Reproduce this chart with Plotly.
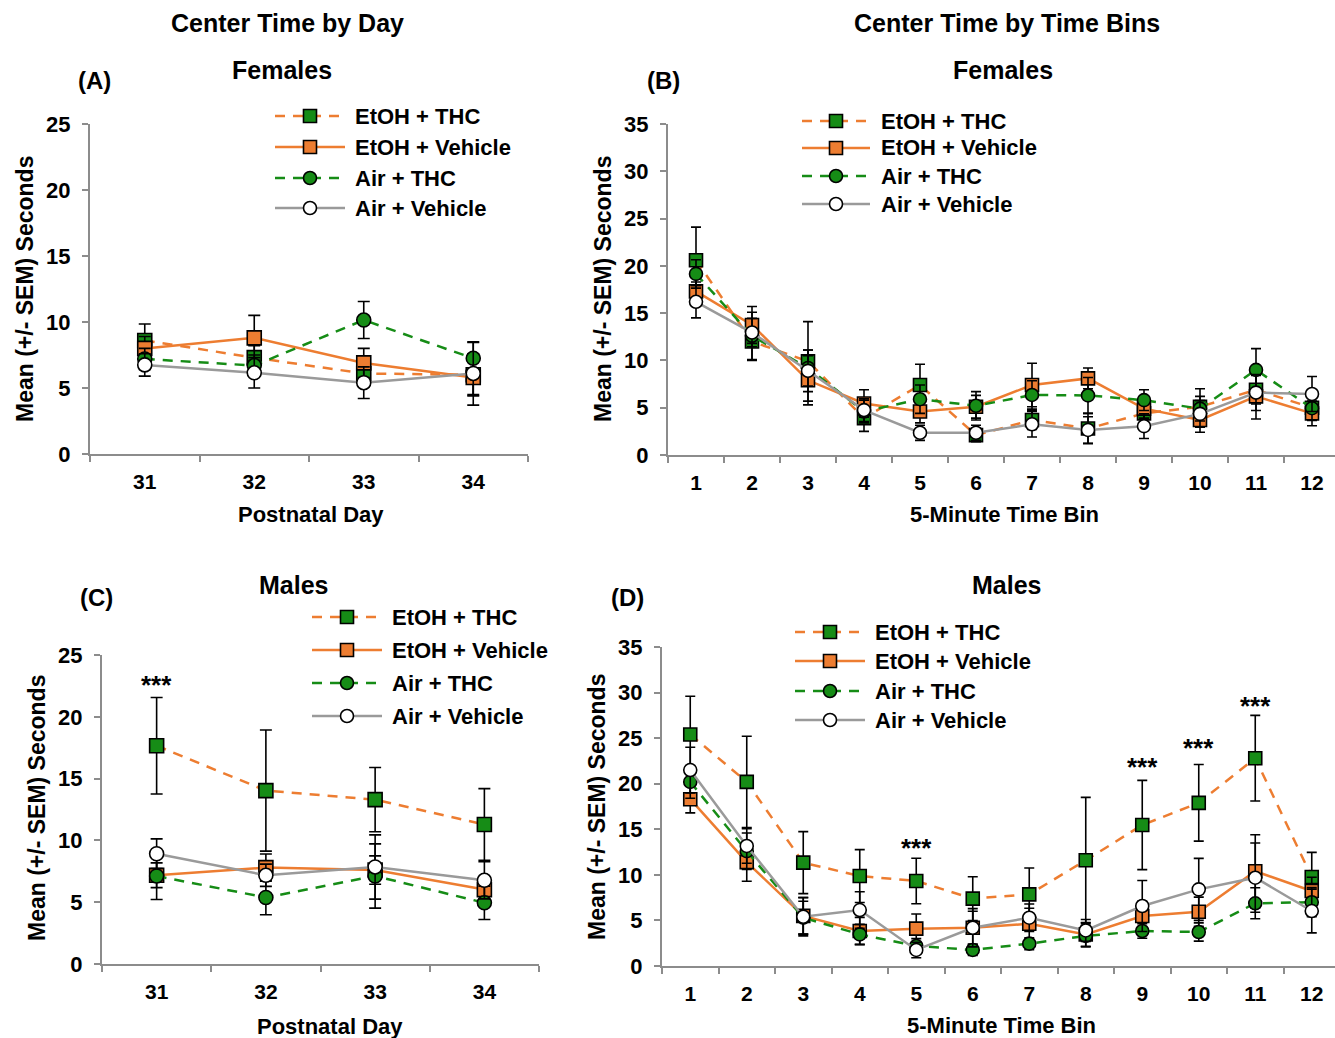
import plotly.graph_objects as go

W, H = 1335, 1038

# ---------------- DATA ----------------
days = ["31", "32", "33", "34"]
bins = ["1", "2", "3", "4", "5", "6", "7", "8", "9", "10", "11", "12"]
groups = ["EtOH + THC", "EtOH + Vehicle", "Air + THC", "Air + Vehicle"]

# (A) Females, center time by day
a_etoh_thc = [8.6, 7.3, 6.1, 6.0]
a_etoh_thc_sem = [1.25, 0.9, 1.0, 1.6]
a_etoh_veh = [8.0, 8.8, 6.9, 5.8]
a_etoh_veh_sem = [0.9, 1.7, 1.1, 1.3]
a_air_thc = [7.2, 6.7, 10.15, 7.25]
a_air_thc_sem = [0.8, 0.8, 1.4, 1.2]
a_air_veh = [6.75, 6.15, 5.4, 6.1]
a_air_veh_sem = [0.85, 1.15, 1.2, 2.4]

# (B) Females, center time by 5-min bin
b_etoh_thc = [20.6, 12.0, 9.9, 3.9, 7.4, 2.1, 3.7, 2.8, 4.4, 5.1, 6.9, 5.0]
b_etoh_thc_sem = [3.5, 2.0, 4.2, 1.4, 2.2, 0.7, 1.0, 1.6, 0.9, 1.9, 1.5, 1.2]
b_etoh_veh = [17.3, 13.75, 7.9, 5.45, 4.6, 5.1, 7.4, 8.1, 4.9, 3.7, 6.2, 4.4]
b_etoh_veh_sem = [1.0, 1.95, 2.6, 1.45, 1.2, 1.2, 2.3, 1.1, 1.0, 1.3, 2.4, 1.3]
b_air_thc = [19.15, 12.6, 9.2, 4.6, 5.9, 5.2, 6.35, 6.3, 5.8, 4.9, 9.0, 4.95]
b_air_thc_sem = [1.5, 2.5, 1.9, 1.2, 1.5, 1.5, 1.5, 1.9, 1.1, 1.3, 2.25, 1.3]
b_air_veh = [16.2, 12.95, 8.9, 4.75, 2.35, 2.35, 3.25, 2.65, 3.05, 4.35, 6.6, 6.45]
b_air_veh_sem = [1.7, 1.5, 2.2, 1.2, 0.8, 0.8, 1.35, 1.4, 1.3, 1.4, 1.9, 1.85]

# (C) Males, center time by day
c_etoh_thc = [17.66, 14.03, 13.3, 11.29]
c_etoh_thc_sem = [3.9, 4.9, 2.6, 2.9]
c_etoh_veh = [7.18, 7.8, 7.6, 6.02]
c_etoh_veh_sem = [1.0, 1.1, 1.15, 1.0]
c_air_thc = [7.12, 5.38, 7.12, 4.95]
c_air_thc_sem = [1.9, 1.4, 2.6, 1.35]
c_air_veh = [8.92, 7.18, 7.85, 6.77]
c_air_veh_sem = [1.2, 0.9, 2.6, 1.5]

# (D) Males, center time by 5-min bin
d_etoh_thc = [25.4, 20.2, 11.34, 9.87, 9.33, 7.39, 7.86, 11.6, 15.47, 17.9, 22.8, 9.77]
d_etoh_thc_sem = [4.2, 5.0, 3.4, 2.9, 2.5, 2.4, 2.9, 6.9, 4.9, 4.2, 4.7, 2.7]
d_etoh_veh = [18.3, 11.4, 5.5, 3.84, 4.1, 4.2, 4.64, 3.47, 5.49, 5.96, 10.4, 8.23]
d_etoh_veh_sem = [1.5, 2.1, 2.0, 1.5, 1.6, 1.8, 1.7, 1.3, 1.6, 1.6, 4.0, 1.5]
d_air_thc = [20.2, 12.6, 5.3, 3.47, 2.2, 1.76, 2.45, 3.3, 3.84, 3.73, 6.88, 7.0]
d_air_thc_sem = [1.8, 2.0, 1.8, 1.1, 0.8, 0.6, 0.65, 1.2, 0.8, 1.0, 1.7, 1.6]
d_air_veh = [21.5, 13.17, 5.41, 6.14, 1.76, 4.2, 5.3, 3.9, 6.58, 8.41, 9.69, 6.03]
d_air_veh_sem = [2.5, 1.9, 2.1, 2.0, 0.85, 2.1, 1.5, 1.2, 2.8, 3.4, 3.8, 2.4]

# significance markers (category, y value)
c_sig = [("31", 22.6)]
d_sig = [("5", 13.0), ("9", 21.8), ("10", 23.9), ("11", 28.5)]

# ---------------- STYLE ----------------
ORANGE = "#ED7D31"
GREEN = "#168C16"
GRAY = "#9A9A9A"
AXC = "#8C8C8C"
FONT = "Arial, Liberation Sans, sans-serif"

styles = [
    dict(line=ORANGE, dash="10px,8px", sym="square", fill=GREEN),
    dict(line=ORANGE, dash="solid", sym="square", fill=ORANGE),
    dict(line=GREEN, dash="10px,8px", sym="circle", fill=GREEN),
    dict(line=GRAY, dash="solid", sym="circle", fill="white"),
]

def px(x):
    return x / W

def py(y):
    return 1 - y / H

fig = go.Figure()

panels = [
    ("x", "y", days, [(a_etoh_thc, a_etoh_thc_sem), (a_etoh_veh, a_etoh_veh_sem),
                      (a_air_thc, a_air_thc_sem), (a_air_veh, a_air_veh_sem)], 14, 6),
    ("x2", "y2", bins, [(b_etoh_thc, b_etoh_thc_sem), (b_etoh_veh, b_etoh_veh_sem),
                        (b_air_thc, b_air_thc_sem), (b_air_veh, b_air_veh_sem)], 13, 5),
    ("x3", "y3", days, [(c_etoh_thc, c_etoh_thc_sem), (c_etoh_veh, c_etoh_veh_sem),
                        (c_air_thc, c_air_thc_sem), (c_air_veh, c_air_veh_sem)], 14, 6),
    ("x4", "y4", bins, [(d_etoh_thc, d_etoh_thc_sem), (d_etoh_veh, d_etoh_veh_sem),
                        (d_air_thc, d_air_thc_sem), (d_air_veh, d_air_veh_sem)], 13, 5),
]

for xa, ya, cats, series, msize, ew in panels:
    for (vals, sem), st, name in zip(series, styles, groups):
        fig.add_trace(go.Scatter(
            x=cats, y=vals, xaxis=xa, yaxis=ya, name=name, showlegend=False,
            mode="lines+markers",
            line=dict(color=st["line"], width=2.5, dash=st["dash"]),
            marker=dict(symbol=st["sym"], size=msize, color=st["fill"],
                        line=dict(color="black", width=1.6)),
            error_y=dict(type="data", array=sem, visible=True, color="black",
                         thickness=1.6, width=ew),
            cliponaxis=False,
        ))

xtickfont = dict(family=FONT, size=21, color="black", weight="bold")
ytickfont = dict(family=FONT, size=22, color="black", weight="bold")

def xaxis(domain, rng):
    return dict(domain=domain, type="category", range=rng, tickson="boundaries",
                ticks="outside", ticklen=6, tickwidth=1.5, tickcolor=AXC,
                showline=True, linecolor=AXC, linewidth=2, showgrid=False,
                zeroline=False, tickfont=xtickfont, ticklabelstandoff=8,
                fixedrange=True, automargin=False)

def yaxis(domain, top, anchor):
    return dict(domain=domain, range=[0, top], dtick=5, ticks="outside", ticklen=6,
                tickwidth=1.5, tickcolor=AXC, showline=True, linecolor=AXC,
                linewidth=2, showgrid=False, zeroline=False, tickfont=ytickfont,
                ticklabelstandoff=7, anchor=anchor, fixedrange=True, automargin=False)

fig.update_layout(
    width=W, height=H, margin=dict(l=0, r=0, t=0, b=0, pad=0, autoexpand=False),
    paper_bgcolor="white", plot_bgcolor="rgba(0,0,0,0)", showlegend=False,
    font=dict(family=FONT, color="black"),
    xaxis=xaxis([px(90), px(528)], [-0.5, 3.5]) | dict(anchor="y"),
    yaxis=yaxis([py(454), py(124)], 25, "x"),
    xaxis2=xaxis([px(668), 1.0], [-0.5, -0.5 + (W - 668) / 56.0]) | dict(anchor="y2"),
    yaxis2=yaxis([py(455), py(124)], 35, "x2"),
    xaxis3=xaxis([px(102), px(539)], [-0.5, 3.5]) | dict(anchor="y3"),
    yaxis3=yaxis([py(964), py(655)], 25, "x3"),
    xaxis4=xaxis([px(662), 1.0], [-0.5, -0.5 + (W - 662) / 56.5]) | dict(anchor="y4"),
    yaxis4=yaxis([py(966), py(647)], 35, "x4"),
)

annotations = []
shapes = []

def text(x, y, s, size, anchor="center", angle=0):
    annotations.append(dict(x=px(x), y=py(y), xref="paper", yref="paper", text=s,
                            showarrow=False, xanchor=anchor, yanchor="middle",
                            textangle=angle,
                            font=dict(family=FONT, size=size, color="black", weight="bold")))

# titles
text(287, 23, "Center Time by Day", 25)
text(1007, 23, "Center Time by Time Bins", 25)
text(282, 70, "Females", 25)
text(1003, 70, "Females", 25)
text(293, 585, "Males", 25)
text(1006, 585, "Males", 25)
text(95, 80, "(A)", 24)
text(663, 80, "(B)", 24)
text(96, 597, "(C)", 24)
text(627, 597, "(D)", 24)
# axis titles
text(311, 514, "Postnatal Day", 22)
text(1004, 514, "5-Minute Time Bin", 22)
text(330, 1026, "Postnatal Day", 22)
text(1001, 1025, "5-Minute Time Bin", 22)
text(25, 289, "Mean (+/- SEM) Seconds", 23, angle=-90)
text(603, 289, "Mean (+/- SEM) Seconds", 23, angle=-90)
text(37, 808, "Mean (+/- SEM) Seconds", 23, angle=-90)
text(597, 807, "Mean (+/- SEM) Seconds", 23, angle=-90)

# significance stars (category axes: position by category index)
for cat, yv in c_sig:
    annotations.append(dict(x=days.index(cat), y=yv, xref="x3", yref="y3", text="***",
                            showarrow=False,
                            font=dict(family=FONT, size=26, color="black", weight="bold")))
for cat, yv in d_sig:
    annotations.append(dict(x=bins.index(cat), y=yv, xref="x4", yref="y4", text="***",
                            showarrow=False,
                            font=dict(family=FONT, size=26, color="black", weight="bold")))

# legends (drawn as shapes + text)
def legend(x0, x1, xt, rows, msize):
    cx = (x0 + x1) / 2
    for st, name, yrow in zip(styles, groups, rows):
        shapes.append(dict(type="line", xref="paper", yref="paper",
                           x0=px(x0), x1=px(x1), y0=py(yrow), y1=py(yrow),
                           line=dict(color=st["line"], width=2.5, dash=st["dash"])))
        h = msize / 2
        shapes.append(dict(type="rect" if st["sym"] == "square" else "circle",
                           xref="paper", yref="paper", xsizemode="pixel", ysizemode="pixel",
                           xanchor=px(cx), yanchor=py(yrow), x0=-h, x1=h, y0=-h, y1=h,
                           fillcolor=st["fill"], line=dict(color="black", width=1.6)))
        text(xt, yrow, name, 22, anchor="left")

legend(275, 345, 353, [116, 147, 178, 208], 13)
legend(802, 870, 879, [121, 148, 176, 204], 13)
legend(312, 382, 390, [617, 650, 683, 716], 13)
legend(795, 865, 873, [632, 661, 691, 720], 13)

fig.update_layout(annotations=annotations, shapes=shapes)

fig.write_html(
    "out.html",
    post_script="document.body.style.margin='0';document.body.style.overflow='hidden';",
)
